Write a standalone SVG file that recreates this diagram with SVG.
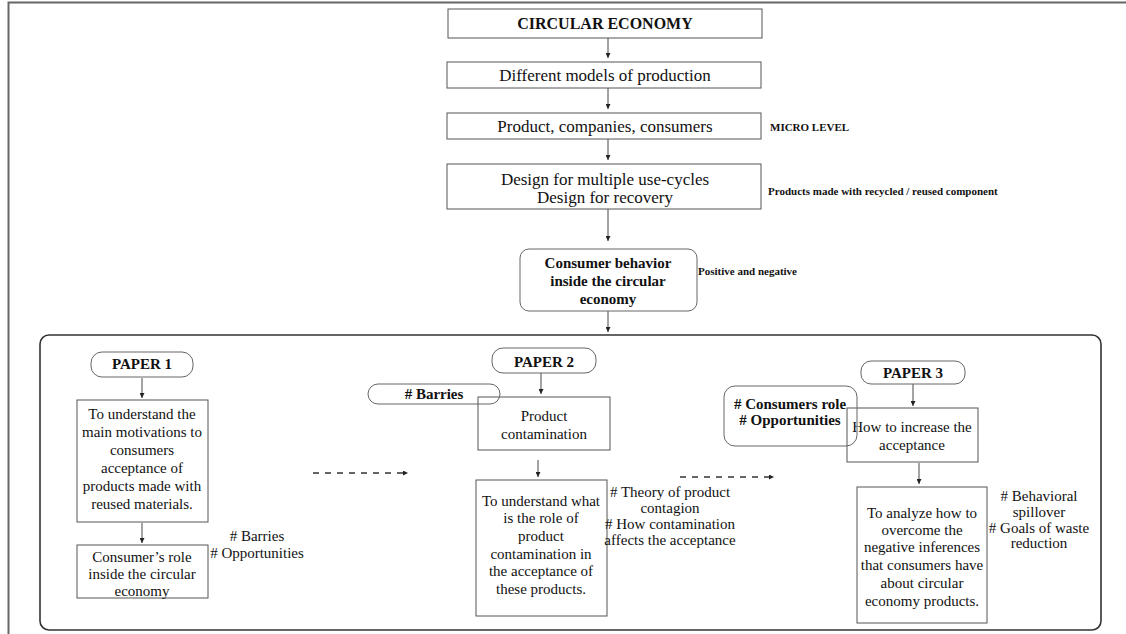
<svg xmlns="http://www.w3.org/2000/svg" width="1126" height="634" viewBox="0 0 1126 634">
<defs>
<marker id="ah" viewBox="0 0 6 6" refX="6" refY="3" markerWidth="5" markerHeight="5" orient="auto" markerUnits="userSpaceOnUse">
<path d="M0,0 L6,3 L0,6 z" fill="#222"/>
</marker>
<style>
text{font-family:"Liberation Serif","Times New Roman",serif;fill:#111;text-anchor:middle}
.b{font-weight:bold}
.box{fill:#fff;stroke:#555;stroke-width:1}
.pill{fill:#fff;stroke:#666;stroke-width:1}
.ln{stroke:#333;stroke-width:0.9;fill:none;marker-end:url(#ah)}
.dash{stroke:#333;stroke-width:1.6;fill:none;stroke-dasharray:6,6;marker-end:url(#ah)}
.t17{font-size:17px}
.t15{font-size:15px}
.s11{font-size:11px;font-weight:bold;text-anchor:start}
</style>
</defs>
<rect width="1126" height="634" fill="#fff"/>
<path d="M8.5,634 V2.5 H1126" fill="none" stroke="#666" stroke-width="2"/>
<rect x="40" y="335" width="1061" height="295" rx="9" fill="none" stroke="#333" stroke-width="1.6"/>

<g id="connectors">
<line class="ln" x1="608" y1="38" x2="608" y2="58"/>
<line class="ln" x1="608" y1="88" x2="608" y2="109"/>
<line class="ln" x1="608" y1="139" x2="608" y2="160"/>
<line class="ln" x1="608" y1="209" x2="608" y2="241"/>
<line class="ln" x1="608" y1="311" x2="608" y2="332"/>
<line class="ln" x1="142" y1="378" x2="142" y2="398"/>
<line class="ln" x1="142" y1="523" x2="142" y2="543"/>
<line class="ln" x1="541" y1="373" x2="541" y2="394"/>
<line class="ln" x1="538" y1="460" x2="538" y2="477"/>
<line class="ln" x1="913" y1="384" x2="913" y2="406"/>
<line class="ln" x1="919" y1="463" x2="919" y2="484"/>
<line class="dash" x1="313" y1="473" x2="408" y2="473"/>
<line class="dash" x1="680" y1="477" x2="774" y2="477"/>
</g>

<g id="n-circular">
<rect class="box" x="448" y="9" width="314" height="29"/>
<text class="b" x="605" y="29" font-size="16">CIRCULAR ECONOMY</text>
</g>
<g id="n-models">
<rect class="box" x="447" y="62" width="314" height="26"/>
<text class="t17" x="605" y="81">Different models of production</text>
</g>
<g id="n-product">
<rect class="box" x="447" y="113" width="314" height="26"/>
<text class="t17" x="605" y="132">Product, companies, consumers</text>
<text class="s11" x="770" y="131">MICRO LEVEL</text>
</g>
<g id="n-design">
<rect class="box" x="447" y="164" width="314" height="45"/>
<text class="t17" x="605" y="185">Design for multiple use-cycles</text>
<text class="t17" x="605" y="203">Design for recovery</text>
<text class="s11" x="768" y="195">Products made with recycled / reused component</text>
</g>
<g id="n-behavior">
<rect class="pill" x="520" y="249" width="177" height="62" rx="9"/>
<text class="b t15" x="608" y="268">Consumer behavior</text>
<text class="b t15" x="608" y="286">inside the circular</text>
<text class="b t15" x="608" y="304">economy</text>
<text class="s11" x="698" y="275">Positive and negative</text>
</g>

<g id="n-paper1">
<rect class="pill" x="91" y="352" width="102" height="25" rx="11"/>
<text class="b t15" x="142" y="369">PAPER 1</text>
</g>
<g id="n-p1-goal">
<rect class="box" x="77" y="400" width="131" height="122"/>
<text class="t15" x="142" y="419">To understand the</text>
<text class="t15" x="142" y="437">main motivations to</text>
<text class="t15" x="142" y="455">consumers</text>
<text class="t15" x="142" y="473">acceptance of</text>
<text class="t15" x="142" y="491">products made with</text>
<text class="t15" x="142" y="509">reused materials.</text>
</g>
<g id="n-p1-role">
<rect class="box" x="77" y="545" width="131" height="53"/>
<text class="t15" x="142" y="562">Consumer’s role</text>
<text class="t15" x="142" y="579">inside the circular</text>
<text class="t15" x="142" y="596">economy</text>
<text class="t15" x="257" y="541"># Barries</text>
<text class="t15" x="257" y="558"># Opportunities</text>
</g>

<g id="n-paper2">
<rect class="pill" x="492" y="348" width="104" height="25" rx="11"/>
<text class="b t15" x="544" y="367">PAPER 2</text>
</g>
<g id="n-p2-contam">
<rect class="box" x="478" y="397" width="132" height="53"/>
<text class="t15" x="544" y="421">Product</text>
<text class="t15" x="544" y="439">contamination</text>
</g>
<g id="n-p2-barries">
<rect class="pill" x="368" y="384" width="132" height="20" rx="10" style="fill:none"/>
<text class="b t15" x="434" y="399"># Barries</text>
</g>
<g id="n-p2-goal">
<rect class="box" x="476" y="480" width="131" height="136"/>
<text class="t15" x="541" y="506">To understand what</text>
<text class="t15" x="541" y="523">is the role of</text>
<text class="t15" x="541" y="541">product</text>
<text class="t15" x="541" y="559">contamination in</text>
<text class="t15" x="541" y="576">the acceptance of</text>
<text class="t15" x="541" y="594">these products.</text>
<text class="t15" x="670" y="497"># Theory of product</text>
<text class="t15" x="670" y="513">contagion</text>
<text class="t15" x="670" y="529"># How contamination</text>
<text class="t15" x="670" y="545">affects the acceptance</text>
</g>

<g id="n-paper3">
<rect class="pill" x="861" y="361" width="104" height="23" rx="10"/>
<text class="b t15" x="913" y="378">PAPER 3</text>
</g>
<g id="n-p3-increase">
<rect class="box" x="847" y="408" width="131" height="54"/>
<text class="t15" x="912" y="432">How to increase the</text>
<text class="t15" x="912" y="450">acceptance</text>
</g>
<g id="n-p3-role">
<rect class="pill" x="724" y="386" width="133" height="60" rx="11" style="fill:none"/>
<text class="b t15" x="790" y="409"># Consumers role</text>
<text class="b t15" x="790" y="425"># Opportunities</text>
</g>
<g id="n-p3-goal">
<rect class="box" x="857" y="487" width="130" height="136"/>
<text class="t15" x="922" y="518">To analyze how to</text>
<text class="t15" x="922" y="535">overcome the</text>
<text class="t15" x="922" y="552">negative inferences</text>
<text class="t15" x="922" y="570">that consumers have</text>
<text class="t15" x="922" y="588">about circular</text>
<text class="t15" x="922" y="606">economy products.</text>
<text class="t15" x="1039" y="501"># Behavioral</text>
<text class="t15" x="1039" y="517">spillover</text>
<text class="t15" x="1039" y="533"># Goals of waste</text>
<text class="t15" x="1039" y="548">reduction</text>
</g>
</svg>
